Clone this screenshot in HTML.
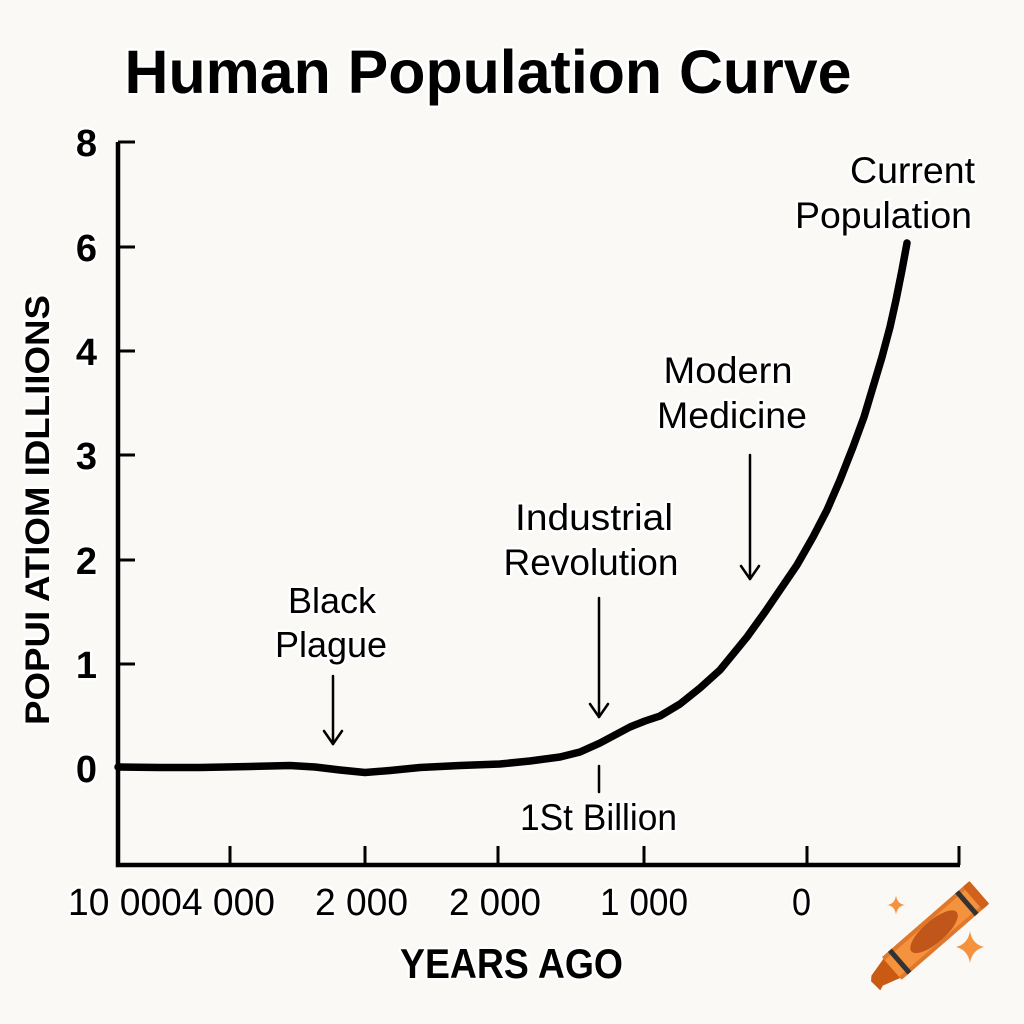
<!DOCTYPE html>
<html>
<head>
<meta charset="utf-8">
<style>
  html,body{margin:0;padding:0;background:#faf9f5;}
  svg{display:block;}
  text{font-family:"Liberation Sans", sans-serif;fill:#000;}
  .halo{paint-order:stroke;stroke:#ffffff;stroke-width:5px;stroke-linejoin:round;}
</style>
</head>
<body>
<svg width="1024" height="1024" viewBox="0 0 1024 1024" xmlns="http://www.w3.org/2000/svg">
  <rect x="0" y="0" width="1024" height="1024" fill="#faf9f5"/>

  <!-- Title -->
  <text class="halo" x="488" y="93" font-size="61" font-weight="bold" text-anchor="middle" textLength="727" lengthAdjust="spacingAndGlyphs">Human Population Curve</text>

  <!-- Y axis label -->
  <text class="halo" transform="translate(49,510) rotate(-90)" x="0" y="0" font-size="34" font-weight="bold" text-anchor="middle" textLength="430" lengthAdjust="spacingAndGlyphs">POPUI ATIOM IDLLIIONS</text>

  <!-- Axes -->
  <path d="M118,142 L118,865 L960,865" fill="none" stroke="#000" stroke-width="4.5" stroke-linejoin="miter"/>
  <!-- Y ticks -->
  <g stroke="#000" stroke-width="3">
    <line x1="118" y1="142" x2="135" y2="142"/>
    <line x1="118" y1="247" x2="135" y2="247"/>
    <line x1="118" y1="351" x2="135" y2="351"/>
    <line x1="118" y1="455" x2="135" y2="455"/>
    <line x1="118" y1="560" x2="135" y2="560"/>
    <line x1="118" y1="664" x2="135" y2="664"/>
  </g>
  <!-- X ticks -->
  <g stroke="#000" stroke-width="3">
    <line x1="230" y1="865" x2="230" y2="846"/>
    <line x1="365" y1="865" x2="365" y2="846"/>
    <line x1="498" y1="865" x2="498" y2="846"/>
    <line x1="644" y1="865" x2="644" y2="846"/>
    <line x1="807" y1="865" x2="807" y2="846"/>
    <line x1="959" y1="865" x2="959" y2="846"/>
  </g>

  <!-- Y tick labels -->
  <g font-size="38" font-weight="bold" text-anchor="end">
    <text class="halo" x="97" y="156">8</text>
    <text class="halo" x="97" y="261">6</text>
    <text class="halo" x="97" y="365">4</text>
    <text class="halo" x="97" y="469">3</text>
    <text class="halo" x="97" y="574">2</text>
    <text class="halo" x="97" y="678">1</text>
    <text class="halo" x="97" y="782">0</text>
  </g>

  <!-- X tick labels -->
  <g font-size="38">
    <text class="halo" x="68" y="915" textLength="207" lengthAdjust="spacingAndGlyphs">10 0004 000</text>
    <text class="halo" x="315" y="915" textLength="93" lengthAdjust="spacingAndGlyphs">2 000</text>
    <text class="halo" x="449" y="915" textLength="92" lengthAdjust="spacingAndGlyphs">2 000</text>
    <text class="halo" x="600" y="915" textLength="88" lengthAdjust="spacingAndGlyphs">1 000</text>
    <text class="halo" x="792" y="915" textLength="19" lengthAdjust="spacingAndGlyphs">0</text>
  </g>

  <!-- X axis title -->
  <text class="halo" x="400" y="978" font-size="42" font-weight="bold" textLength="223" lengthAdjust="spacingAndGlyphs">YEARS AGO</text>

  <!-- Curve -->
  <polyline fill="none" stroke="#000" stroke-width="7.5" stroke-linejoin="round" stroke-linecap="round"
    points="118,767 160,767.5 200,767.5 250,766.5 290,765.5 315,767 340,770 365,772.5 390,770.5 420,767.5 460,765.5 500,764 530,761 560,757 580,752 600,743 615,735 630,727 645,721 660,716 680,704 700,688 720,670 747,637 765,612 780,590 797,565 813,537 827,510 840,480 853,447 864,417 873,387 882,357 890,327 896,300 902,270 907,243"/>

  <!-- Annotation: Black Plague -->
  <g font-size="36" text-anchor="middle">
    <text class="halo" x="332" y="613">Black</text>
    <text class="halo" x="331" y="657">Plague</text>
  </g>
  <g stroke="#000" stroke-width="2.5" fill="none" stroke-linecap="round" stroke-linejoin="round">
    <line x1="333" y1="676" x2="333" y2="744"/>
    <polyline points="324,731 333,744 342,731"/>
  </g>

  <!-- Annotation: Industrial Revolution -->
  <g font-size="37" text-anchor="middle">
    <text class="halo" x="594" y="530" textLength="158" lengthAdjust="spacingAndGlyphs">Industrial</text>
    <text class="halo" x="591" y="575" textLength="175" lengthAdjust="spacingAndGlyphs">Revolution</text>
  </g>
  <g stroke="#000" stroke-width="2.5" fill="none" stroke-linecap="round" stroke-linejoin="round">
    <line x1="599" y1="598" x2="599" y2="717"/>
    <polyline points="590,704 599,717 608,704"/>
    <line x1="599" y1="766" x2="599" y2="792"/>
  </g>
  <text class="halo" x="520" y="830" font-size="37" textLength="157" lengthAdjust="spacingAndGlyphs">1St Billion</text>

  <!-- Annotation: Modern Medicine -->
  <g font-size="37" text-anchor="middle">
    <text class="halo" x="728" y="383" textLength="129" lengthAdjust="spacingAndGlyphs">Modern</text>
    <text class="halo" x="732" y="428" textLength="150" lengthAdjust="spacingAndGlyphs">Medicine</text>
  </g>
  <g stroke="#000" stroke-width="2.5" fill="none" stroke-linecap="round" stroke-linejoin="round">
    <line x1="750" y1="455" x2="750" y2="579"/>
    <polyline points="741,566 750,579 759,566"/>
  </g>

  <!-- Annotation: Current Population -->
  <g font-size="37" text-anchor="end">
    <text class="halo" x="975" y="183" textLength="125" lengthAdjust="spacingAndGlyphs">Current</text>
    <text class="halo" x="972" y="228" textLength="177" lengthAdjust="spacingAndGlyphs">Population</text>
  </g>

  <!-- Crayon icon -->
  <g transform="translate(928,937) rotate(-41)">
    <!-- tip -->
    <polygon points="-47,-13 -47,13 -66,7 -71,9 -72,-4 -68,-8" fill="#c95a14"/>
    <!-- body -->
    <rect x="-48" y="-15" width="116" height="30" rx="3" fill="#f5923e"/>
    <rect x="-48" y="-15" width="116" height="4" fill="#e0782c"/>
    <rect x="-48" y="11" width="116" height="4" fill="#e0782c"/>
    <!-- bands -->
    <rect x="-40" y="-15" width="5" height="30" fill="#333333"/>
    <rect x="49" y="-15" width="5" height="30" fill="#333333"/>
    <!-- end cap -->
    <rect x="59" y="-15" width="9" height="30" rx="2" fill="#d2611c"/>
    <!-- label -->
    <ellipse cx="8" cy="0" rx="30" ry="11" fill="#c0561a"/>
  </g>
  <!-- sparkles -->
  <path d="M896,895 Q897,904 905,905 Q897,906 896,915 Q895,906 887,905 Q895,904 896,895 Z" fill="#f5923e"/>
  <path d="M970,931 Q972,944 984,947 Q972,950 970,963 Q968,950 956,947 Q968,944 970,931 Z" fill="#f5923e"/>
</svg>
</body>
</html>
